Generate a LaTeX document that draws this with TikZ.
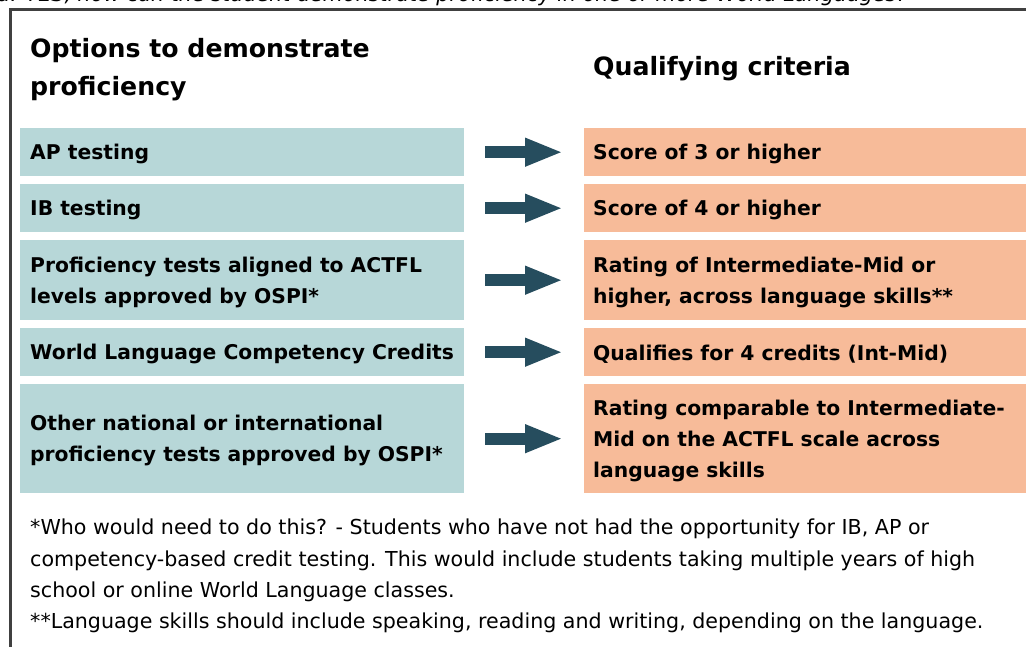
\documentclass[tikz,border=0pt]{standalone}
\usepackage{fontspec}
\setmainfont{DejaVu Sans}
\usetikzlibrary{arrows.meta}
\definecolor{tealbox}{HTML}{B7D7D8}
\definecolor{orangebox}{HTML}{F7BB99}
\definecolor{arrowcol}{HTML}{264D5E}
\definecolor{framecol}{HTML}{404040}
\tikzset{
  optbox/.style={fill=tealbox, draw=none, inner sep=0pt, minimum width=444pt, anchor=north west},
  critbox/.style={fill=orangebox, draw=none, inner sep=0pt, minimum width=442pt, anchor=north west},
  boxtext/.style={anchor=west, inner sep=0pt, align=left, font=\fontsize{20.3}{31}\selectfont\bfseries},
  headtext/.style={anchor=west, inner sep=0pt, align=left, font=\fontsize{25.2}{37.5}\selectfont\bfseries},
  foottext/.style={anchor=north west, inner sep=0pt, align=left, font=\fontsize{20.6}{31.2}\selectfont},
  blockarrow/.style={draw=arrowcol, line width=12pt, shorten <=21pt, shorten >=21pt,
    -{Triangle[length=38pt,width=26pt]}},
}
\begin{document}
\begin{tikzpicture}[x=1pt,y=-1pt]
\useasboundingbox (0,0) rectangle (1026,647);
\begin{scope}
\clip (0,0) rectangle (1026,647);
\node[anchor=base west, inner sep=0pt, font=\fontsize{20.7}{24}\selectfont\itshape] (top) at (-3,2) {d. YES, how can the student demonstrate proficiency in one or more World Languages?};
\end{scope}
% frame
\draw[framecol, line width=3pt] (10,660) -- (10,10) -- (1040,10);
% headings
\node[headtext] (h1) at (30,69.5) {Options to demonstrate\\proficiency};
\node[headtext] (h2) at (593,68.5) {Qualifying criteria};
% rows
\node[optbox, minimum height=48pt] (L1) at (20,128) {};
\node[optbox, minimum height=48pt] (L2) at (20,184) {};
\node[optbox, minimum height=80pt] (L3) at (20,240) {};
\node[optbox, minimum height=48pt] (L4) at (20,328) {};
\node[optbox, minimum height=109pt] (L5) at (20,384) {};
\node[critbox, minimum height=48pt] (R1) at (584,128) {};
\node[critbox, minimum height=48pt] (R2) at (584,184) {};
\node[critbox, minimum height=80pt] (R3) at (584,240) {};
\node[critbox, minimum height=48pt] (R4) at (584,328) {};
\node[critbox, minimum height=109pt] (R5) at (584,384) {};
% texts
\node[boxtext] (tL1) at ([xshift=10pt,yshift=-2pt]L1.west) {AP testing};
\node[boxtext] (tL2) at ([xshift=10pt,yshift=-2pt]L2.west) {IB testing};
\node[boxtext] (tL3) at ([xshift=10pt,yshift=-2pt]L3.west) {Proficiency tests aligned to ACTFL\\levels approved by OSPI*};
\node[boxtext] (tL4) at ([xshift=10pt,yshift=-2pt]L4.west) {World Language Competency Credits};
\node[boxtext] (tL5) at ([xshift=10pt,yshift=-2pt]L5.west) {Other national or international\\proficiency tests approved by OSPI*};
\node[boxtext] (tR1) at ([xshift=9pt,yshift=-2pt]R1.west) {Score of 3 or higher};
\node[boxtext] (tR2) at ([xshift=9pt,yshift=-2pt]R2.west) {Score of 4 or higher};
\node[boxtext] (tR3) at ([xshift=9pt,yshift=-2pt]R3.west) {Rating of Intermediate-Mid or\\higher, across language skills**};
\node[boxtext] (tR4) at ([xshift=9pt,yshift=-2pt]R4.west) {Qualifies for 4 credits (Int-Mid)};
\node[boxtext] (tR5) at ([xshift=9pt,yshift=-2pt]R5.west) {Rating comparable to Intermediate-\\Mid on the ACTFL scale across\\language skills};
% arrows
\foreach \i in {1,...,5} {
  \draw[blockarrow] (L\i.east) -- (R\i.west);
}
% footnote
\node[foottext] (fn) at (30,519) {*Who would need to do this? - Students who have not had the opportunity for IB, AP or\\competency-based credit testing. This would include students taking multiple years of high\\school or online World Language classes.\\**Language skills should include speaking, reading and writing, depending on the language.};
\end{tikzpicture}
\end{document}
